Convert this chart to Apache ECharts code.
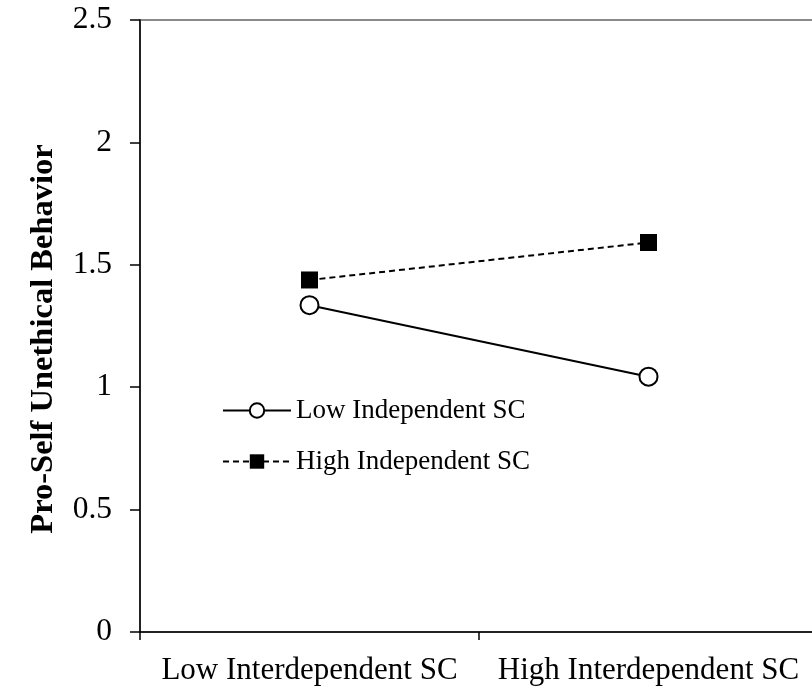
<!DOCTYPE html>
<html><head><meta charset="utf-8">
<script src="https://cdn.jsdelivr.net/npm/echarts@6/dist/echarts.min.js"></script>
<style>html,body{margin:0;padding:0;background:#fff;overflow:hidden}#c{width:818px;height:691px}</style>
</head><body><div id="c"></div>
<script>
const categories = ['Low Interdependent SC', 'High Interdependent SC'];
const lowIndependent = [1.335, 1.043];
const highIndependent = [1.438, 1.591];
const yTicks = [0, 0.5, 1, 1.5, 2, 2.5];
const seriesNames = ['Low Independent SC', 'High Independent SC'];
const yName = 'Pro-Self Unethical Behavior';

const font = '"Liberation Serif", "Times New Roman", serif';
const chart = echarts.init(document.getElementById('c'));
chart.setOption({
  animation: false,
  backgroundColor: '#fff',
  textStyle: { fontFamily: font },
  grid: { left: 140, top: 20, right: 0, bottom: 59, show: true, borderColor: '#8a8a8a', borderWidth: 2, backgroundColor: 'transparent', containLabel: false },
  legend: {
    orient: 'vertical', left: 222, top: 397, padding: 0, itemWidth: 68, itemHeight: 18, itemGap: 24,
    data: seriesNames,
    textStyle: { fontFamily: font, fontSize: 27, color: '#000' }
  },
  xAxis: {
    type: 'category', data: categories, boundaryGap: true,
    axisLine: { lineStyle: { color: '#000', width: 1.5 } },
    axisTick: { show: true, length: 8, lineStyle: { color: '#000', width: 1.5 } },
    axisLabel: { fontFamily: font, fontSize: 31, color: '#000', margin: 23, interval: 0 },
    splitLine: { show: false }
  },
  yAxis: {
    type: 'value', min: 0, max: 2.5, interval: 0.5,
    name: yName, nameLocation: 'middle', nameGap: 80, nameRotate: 90,
    nameTextStyle: { fontFamily: font, fontSize: 32.5, fontWeight: 'bold', color: '#000', padding: [0, 26, 0, 0] },
    axisLine: { show: true, lineStyle: { color: '#000', width: 1.5 } },
    axisTick: { show: true, length: 10, lineStyle: { color: '#000', width: 1.5 } },
    axisLabel: { fontFamily: font, fontSize: 31.5, color: '#000', margin: 28, formatter: v => yTicks.includes(v) ? String(v) : '' },
    splitLine: { show: false }
  },
  series: [
    {
      name: seriesNames[0], type: 'line', data: lowIndependent,
      symbol: 'circle', symbolSize: 18,
      lineStyle: { color: '#000', width: 2, type: 'solid' },
      itemStyle: { color: '#fff', borderColor: '#000', borderWidth: 2 }
    },
    {
      name: seriesNames[1], type: 'line', data: highIndependent,
      symbol: 'rect', symbolSize: 17,
      lineStyle: { color: '#000', width: 2, type: [6, 4] },
      itemStyle: { color: '#000', borderColor: '#000', borderWidth: 0 }
    }
  ]
});
</script></body></html>
